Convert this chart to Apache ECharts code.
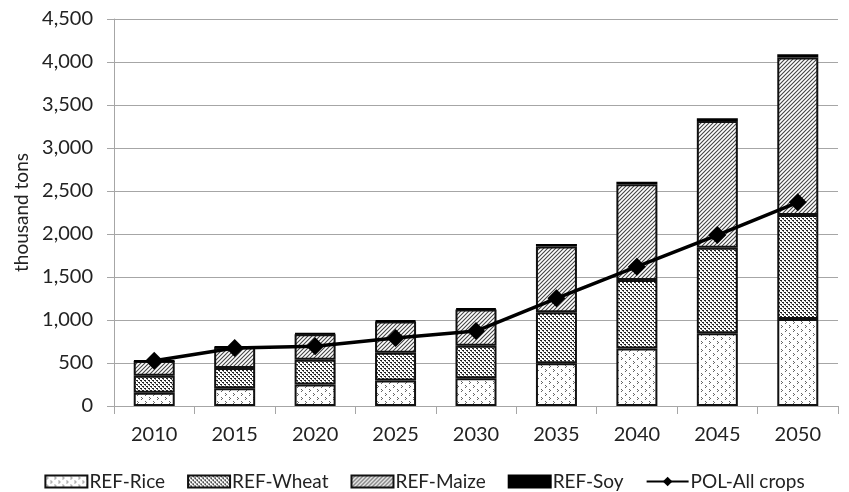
<!DOCTYPE html>
<html>
<head>
<meta charset="utf-8">
<script src="https://cdn.jsdelivr.net/npm/echarts@6/dist/echarts.min.js"></script>
<style>
html,body{margin:0;padding:0;background:#fff;}
#chart{width:849px;height:492px;}
</style>
</head>
<body>
<div id="chart"></div>
<script>
const years = ['2010','2015','2020','2025','2030','2035','2040','2045','2050'];
const refRice  = [155, 205, 250, 297, 322, 496, 670, 845, 1012];
const refWheat = [197, 237, 289, 323, 380, 594, 795, 996, 1209];
const refMaize = [170, 240, 296, 363, 419, 764, 1113, 1472, 1830];
const refSoy   = [5, 8, 10, 12, 15, 30, 30, 32, 38];
const polAll   = [527, 675, 694, 790, 872, 1252, 1620, 1988, 2369];
const yMin = 0, yMax = 4500, yStep = 500;

function makePattern(size, draw){
  const c = document.createElement('canvas');
  c.width = size; c.height = size;
  const ctx = c.getContext('2d');
  ctx.fillStyle = '#fff';
  ctx.fillRect(0,0,size,size);
  draw(ctx);
  return {image: c, repeat: 'repeat'};
}
const ricePat = makePattern(8, ctx => {
  ctx.fillStyle = '#666';
  ctx.fillRect(1,1,1,1); ctx.fillRect(2,2,1,1); ctx.fillRect(1,3,1,1);
  ctx.fillRect(5,5,1,1); ctx.fillRect(6,6,1,1); ctx.fillRect(5,7,1,1);
});
const wheatPat = makePattern(4, ctx => {
  ctx.fillStyle = '#222';
  ctx.fillRect(0,0,2,1); ctx.fillRect(2,2,2,1);
  ctx.fillStyle = '#666';
  ctx.fillRect(1,1,1,1); ctx.fillRect(3,3,1,1);
});
const maizePat = makePattern(4, ctx => {
  ctx.strokeStyle = '#444';
  ctx.lineWidth = 1.1;
  ctx.beginPath();
  ctx.moveTo(-1,5); ctx.lineTo(5,-1);
  ctx.moveTo(3,5); ctx.lineTo(5,3);
  ctx.moveTo(-1,1); ctx.lineTo(1,-1);
  ctx.stroke();
});

const font = 'Lato';
const chart = echarts.init(document.getElementById('chart'), null, {renderer:'canvas'});
const barCommon = {
  type: 'bar', stack: 'ref', barWidth: 41,
  emphasis: {disabled: true}
};
chart.setOption({
  animation: false,
  textStyle: {fontFamily: font},
  grid: {left: 114, right: 11, top: 19, bottom: 86, containLabel: false},
  legend: {
    bottom: 1, left: 'center', padding: 0,
    itemWidth: 42, itemHeight: 12, itemGap: 22,
    textStyle: {fontFamily: font, fontSize: 19, color: '#222', padding: [0,0,0,-3]},
    data: [
      {name:'REF-Rice', icon:'rect'},
      {name:'REF-Wheat', icon:'rect'},
      {name:'REF-Maize', icon:'rect'},
      {name:'REF-Soy', icon:'rect'},
      {name:'POL-All crops'}
    ]
  },
  xAxis: {
    type: 'category', data: years,
    axisLine: {lineStyle: {color: '#a6a6a6', width: 1}},
    axisTick: {show: true, length: 8, lineStyle: {color: '#a6a6a6'}},
    axisLabel: {fontFamily: font, fontSize: 20, color: '#222', margin: 19}
  },
  yAxis: {
    type: 'value', min: yMin, max: yMax, interval: yStep,
    name: 'thousand tons', nameLocation: 'middle', nameGap: 80,
    nameTextStyle: {fontFamily: font, fontSize: 19, color: '#222'},
    axisLine: {show: true, lineStyle: {color: '#a6a6a6', width: 1}},
    axisTick: {show: true, length: 7, lineStyle: {color: '#a6a6a6'}},
    axisLabel: {fontFamily: font, fontSize: 20, color: '#222', margin: 21,
      formatter: v => v.toLocaleString('en-US')},
    splitLine: {lineStyle: {color: '#a6a6a6', width: 1}}
  },
  series: [
    Object.assign({}, barCommon, {name:'REF-Rice', data: refRice,
      itemStyle: {color: ricePat, borderColor: '#111', borderWidth: 2}}),
    Object.assign({}, barCommon, {name:'REF-Wheat', data: refWheat,
      itemStyle: {color: wheatPat, borderColor: '#111', borderWidth: 2}}),
    Object.assign({}, barCommon, {name:'REF-Maize', data: refMaize,
      itemStyle: {color: maizePat, borderColor: '#111', borderWidth: 2}}),
    Object.assign({}, barCommon, {name:'REF-Soy', data: refSoy,
      itemStyle: {color: '#000', borderColor: '#000', borderWidth: 2}}),
    {
      name: 'POL-All crops', type: 'line', data: polAll,
      symbol: 'diamond', symbolSize: 18, z: 5,
      lineStyle: {color: '#000', width: 3.5},
      itemStyle: {color: '#000'},
      emphasis: {disabled: true}
    }
  ]
});
</script>
</body>
</html>
